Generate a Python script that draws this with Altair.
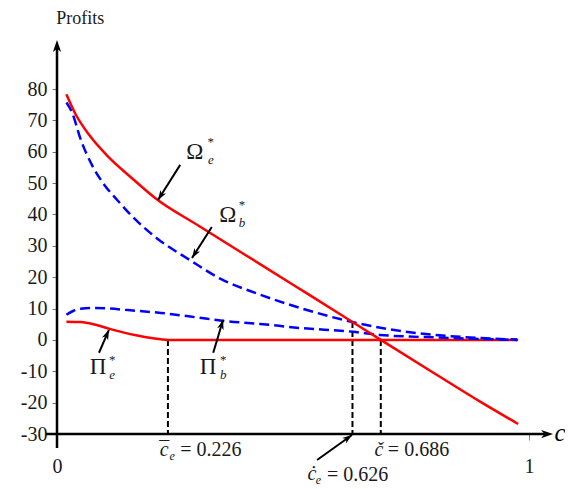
import math
import altair as alt
import pandas as pd

# ---------------- data ----------------
c_omega_e = [0.02, 0.04, 0.07, 0.11, 0.16, 0.21, 0.30, 0.40, 0.50, 0.60, 0.686, 0.80, 0.90, 0.977]
omega_e = [78.3, 71.8, 65.0, 58.2, 51.4, 45.0, 36.4, 27.0, 17.6, 8.2, 0.0, -10.7, -20.0, -26.8]

c_omega_b = [0.02, 0.032, 0.05, 0.075, 0.10, 0.127, 0.16, 0.21, 0.28, 0.35, 0.42, 0.515, 0.626, 0.70, 0.80, 0.90, 0.975]
omega_b = [75.7, 72.5, 64.0, 55.5, 49.5, 44.7, 39.3, 32.6, 25.6, 19.2, 15.0, 10.2, 5.7, 3.5, 1.6, 0.6, 0.1]

c_pi_b = [0.02, 0.035, 0.05, 0.08, 0.11, 0.15, 0.22, 0.30, 0.35, 0.43, 0.515, 0.627, 0.684, 0.80, 0.90, 0.975]
pi_b = [8.0, 9.3, 9.9, 10.2, 10.0, 9.5, 8.6, 7.1, 6.1, 5.1, 3.8, 2.6, 1.6, 0.8, 0.3, 0.0]

c_pi_e = [0.02, 0.05, 0.08, 0.11, 0.14, 0.17, 0.20, 0.235, 0.40, 0.60, 0.80, 0.977]
pi_e = [5.8, 5.7, 4.9, 3.6, 2.4, 1.4, 0.6, 0.0, 0.0, 0.0, 0.0, 0.0]

# vertical dashed guide lines (threshold positions and their curve values)
guide_c = [0.235, 0.626, 0.686]
guide_top = [0.0, 5.7, 0.0]
y_bottom = -30

y_ticks = [80, 70, 60, 50, 40, 30, 20, 10, 0, -10, -20, -30]
x_ticks = [0, 1]

# curve labels (glyph, subscript, superscript)
lab_glyph = ["Ω", "Ω", "Π", "Π"]
lab_sub = ["e", "b", "e", "b"]
lab_c = [0.292, 0.362, 0.087, 0.320]
lab_v = [59.9, 39.9, -8.6, -8.6]
sub_c = [0.326, 0.392, 0.117, 0.352]
sub_v = [57.4, 37.3, -11.2, -11.2]
sup_v = [63.1, 43.0, -6.4, -6.4]

# annotation arrows: tail -> head
arr_tail_c = [0.261, 0.328, 0.089, 0.331, 0.551]
arr_tail_v = [55.8, 36.0, -4.1, -4.1, -38.3]
arr_head_c = [0.214, 0.286, 0.110, 0.352, 0.625]
arr_head_v = [44.6, 26.1, 3.2, 6.4, -30.3]

# threshold labels
thr_sym = ["c", "č", "ċ"]
thr_sym_c = [0.227, 0.682, 0.540]
thr_sym_v = [-35.1, -35.1, -42.6]
thr_sub = ["e", "", "e"]
thr_sub_c = [0.244, 0.0, 0.554]
thr_sub_v = [-37.0, 0.0, -44.6]
thr_val = ["= 0.226", "= 0.686", "= 0.626"]
thr_val_c = [0.261, 0.701, 0.572]
thr_val_v = [-35.1, -35.1, -43.1]

# ---------------- layout ----------------
W, H = 472, 345
X_DOM = [0, 1]
Y_DOM = [-30, 80]
PX_X = W / (X_DOM[1] - X_DOM[0])
PX_Y = H / (Y_DOM[1] - Y_DOM[0])
FONT = "Times New Roman, Liberation Serif, Tinos, DejaVu Serif, serif"
TXT = "#1a1a1a"

ARROW = "M0,0L0.55,1.6L0,1.15L-0.55,1.6Z"


def X(field="c"):
    return alt.X(field, type="quantitative",
                 scale=alt.Scale(domain=X_DOM, nice=False, zero=False),
                 axis=alt.Axis(values=x_ticks, title=None, grid=False, domain=False,
                               tickSize=6, tickColor="#888888", tickWidth=1,
                               labelFont=FONT, labelFontSize=20, labelColor=TXT,
                               labelPadding=16, labelFlush=False,
                               labelExpr="'' + datum.value"))


def Y(field="v"):
    return alt.Y(field, type="quantitative",
                 scale=alt.Scale(domain=Y_DOM, nice=False, zero=False),
                 axis=alt.Axis(values=y_ticks, title=None, grid=False, domain=False,
                               tickSize=5, tickColor="#777777", tickWidth=1,
                               labelFont=FONT, labelFontSize=20, labelColor=TXT,
                               labelPadding=5, labelExpr="'' + datum.value"))


def curve(cs, vs, name):
    return pd.DataFrame({"c": cs, "v": vs, "s": name})


def text_layer(df, size, italic=False, align="center", baseline="middle", color=TXT):
    kw = dict(font=FONT, fontSize=size, color=color, align=align, baseline=baseline)
    if italic:
        kw["fontStyle"] = "italic"
    return alt.Chart(df).mark_text(**kw).encode(x=X("c"), y=Y("v"), text="t")


layers = []

# axis lines
axes_df = pd.DataFrame({"c": [0.0, -0.023], "v": [-34.5, -30.0],
                        "c2": [0.0, 1.038], "v2": [93.7, -30.0]})
layers.append(alt.Chart(axes_df).mark_rule(color="black", strokeWidth=2.5).encode(
    x=X("c"), y=Y("v"), x2="c2", y2="v2"))
axes_tip = pd.DataFrame({"c": [0.0, 1.051], "v": [95.6, -30.0], "a": [0, 90]})
layers.append(alt.Chart(axes_tip).mark_point(shape=ARROW, filled=True, size=225,
                                             color="black", opacity=1).encode(
    x=X("c"), y=Y("v"), angle=alt.Angle("a:Q", scale=None)))

# dashed guides
guides = pd.DataFrame({"c": guide_c, "v": guide_top, "v2": [y_bottom] * 3})
layers.append(alt.Chart(guides).mark_rule(color="black", strokeWidth=2, strokeDash=[6, 3]).encode(
    x=X("c"), y=Y("v"), y2="v2"))

# curves
layers.append(alt.Chart(curve(c_pi_e, pi_e, "pi_e")).mark_line(
    color="#ff0000", strokeWidth=2.5, interpolate="monotone").encode(x=X(), y=Y()))
layers.append(alt.Chart(curve(c_omega_b, omega_b, "omega_b")).mark_line(
    color="#0000ff", strokeWidth=2.5, strokeDash=[10, 5], interpolate="monotone").encode(x=X(), y=Y()))
layers.append(alt.Chart(curve(c_pi_b, pi_b, "pi_b")).mark_line(
    color="#0000ff", strokeWidth=2.5, strokeDash=[10, 5], interpolate="monotone").encode(x=X(), y=Y()))
layers.append(alt.Chart(curve(c_omega_e, omega_e, "omega_e")).mark_line(
    color="#ff0000", strokeWidth=2.5, interpolate="monotone").encode(x=X(), y=Y()))

# annotation arrows
angles = []
for tc, tv, hc, hv in zip(arr_tail_c, arr_tail_v, arr_head_c, arr_head_v):
    dx = (hc - tc) * PX_X
    dy = -(hv - tv) * PX_Y
    angles.append(math.degrees(math.atan2(dx, -dy)) % 360)
arr_df = pd.DataFrame({"c": arr_tail_c, "v": arr_tail_v, "c2": arr_head_c, "v2": arr_head_v})
layers.append(alt.Chart(arr_df).mark_rule(color="black", strokeWidth=2).encode(
    x=X("c"), y=Y("v"), x2="c2", y2="v2"))
head_df = pd.DataFrame({"c": arr_head_c, "v": arr_head_v, "a": angles})
layers.append(alt.Chart(head_df).mark_point(shape=ARROW, filled=True, size=150,
                                            color="black", opacity=1).encode(
    x=X("c"), y=Y("v"), angle=alt.Angle("a:Q", scale=None)))

# curve labels
layers.append(text_layer(pd.DataFrame({"c": lab_c, "v": lab_v, "t": lab_glyph}), 23))
layers.append(text_layer(pd.DataFrame({"c": sub_c, "v": sub_v, "t": lab_sub}), 13, italic=True))
layers.append(text_layer(pd.DataFrame({"c": sub_c, "v": sup_v, "t": ["*"] * 4}), 13))

# threshold labels
layers.append(text_layer(pd.DataFrame({"c": thr_sym_c, "v": thr_sym_v, "t": thr_sym}), 20, italic=True))
layers.append(text_layer(pd.DataFrame({"c": [thr_sym_c[0]], "v": [thr_sym_v[0]], "t": ["¯"]}), 20))
tsub = pd.DataFrame({"c": thr_sub_c, "v": thr_sub_v, "t": thr_sub})
layers.append(text_layer(tsub[tsub.t != ""], 12, italic=True))
layers.append(text_layer(pd.DataFrame({"c": thr_val_c, "v": thr_val_v, "t": thr_val}), 20, align="left"))

# axis titles
layers.append(text_layer(pd.DataFrame({"c": [0.049], "v": [100.6], "t": ["Profits"]}), 18,
                         baseline="alphabetic"))
layers.append(text_layer(pd.DataFrame({"c": [1.066], "v": [-29.7], "t": ["c"]}), 25, italic=True,
                         color="black"))

chart = alt.layer(*layers).properties(
    width=W, height=H,
    padding={"left": 49, "top": 81, "right": 36, "bottom": 53},
    autosize=alt.AutoSizeParams(type="none"),
).configure_view(stroke=None)

chart.save("out.html", embed_options={"renderer": "svg", "actions": False})
